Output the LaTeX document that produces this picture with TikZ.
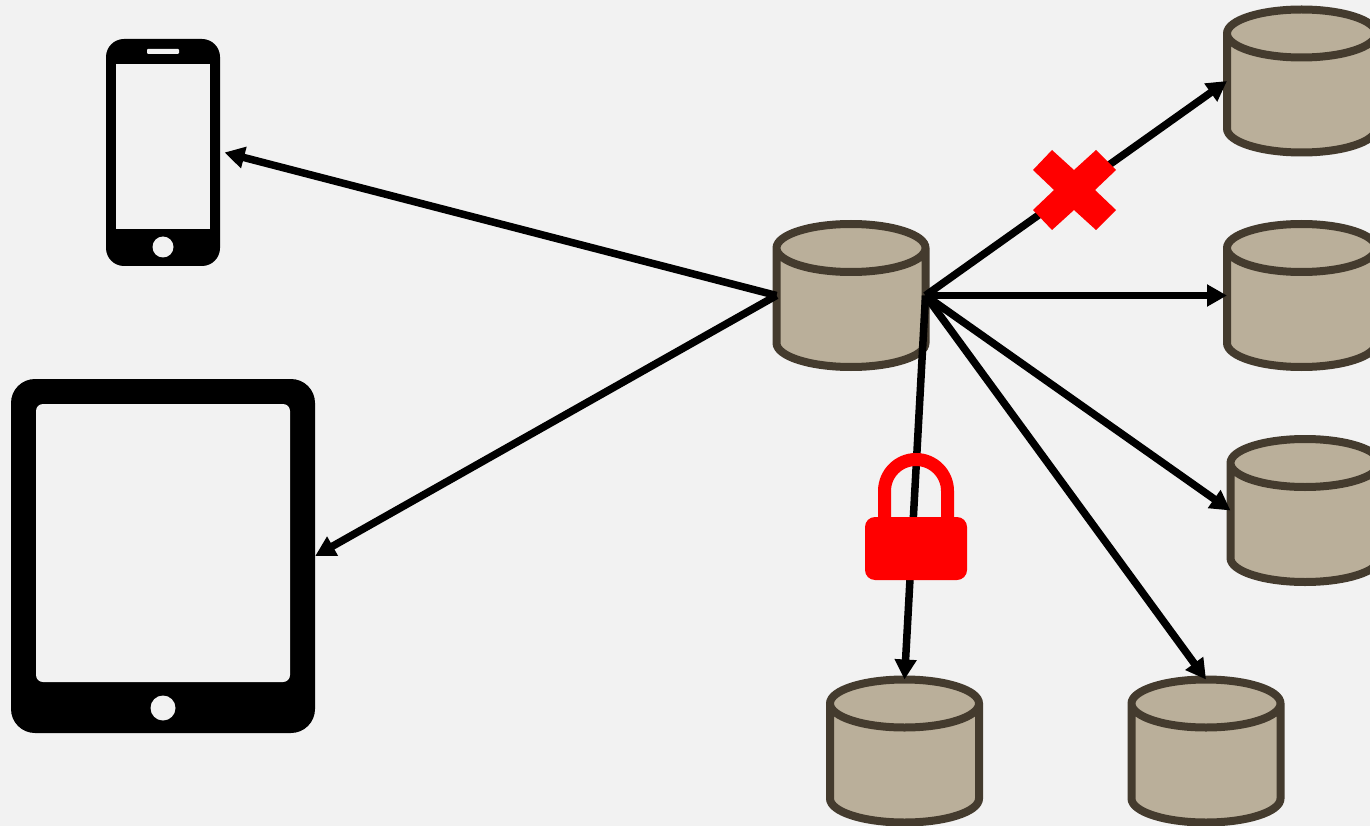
\documentclass[tikz,border=0pt]{standalone}
\usepackage{xcolor}
\usetikzlibrary{shapes.geometric,arrows.meta}
\definecolor{backgr}{HTML}{F2F2F2}
\definecolor{dbfill}{HTML}{BAAF9A}
\definecolor{dbline}{HTML}{443B2E}

\begin{document}
\begin{tikzpicture}[x=1pt,y=-1pt]
	\tikzstyle{db}=[cylinder,shape border rotate=90,shape aspect=2.4,minimum width=149pt,minimum height=143pt,inner sep=10pt,outer sep=0pt,anchor=shape center,draw=dbline,line width=8pt,fill=dbfill]
	\tikzstyle{body}=[rectangle,fill=black,inner sep=0pt]
	\tikzstyle{screen}=[rectangle,fill=backgr,inner sep=0pt,outer sep=0pt]
	\tikzstyle{knob}=[circle,fill=backgr,inner sep=0pt,outer sep=0pt]
	\tikzstyle{link}=[line width=7.5pt,-{Triangle[length=20pt,width=21pt]}]
	
	\useasboundingbox (0,0) rectangle (1370,826);
	\clip (0,0) rectangle (1370,826);
	\fill [backgr] (0,0) rectangle (1370,826);
	
	\node [body,rounded corners=18pt,minimum width=114pt,minimum height=227pt,outer sep=4.5pt] (phone) at (163,152.5) {};
	\node [screen,minimum width=94pt,minimum height=165pt] (phonescreen) at (163,147) {};
	\node [screen,rounded corners=1pt,minimum width=32pt,minimum height=5pt] (speaker) at (163,51.5) {};
	\node [knob,minimum size=21pt] (phonebutton) at (163,247) {};
	
	\node [body,rounded corners=24pt,minimum width=304pt,minimum height=354pt] (tablet) at (163,556) {};
	\node [screen,rounded corners=7pt,minimum width=254pt,minimum height=278pt] (tabletscreen) at (163,543) {};
	\node [knob,minimum size=25pt] (tabletbutton) at (163,708) {};
	
	\node [db] (center) at (851,295.5) {};
	\node [db] (dbone) at (1301.5,81) {};
	\node [db] (dbtwo) at (1301.5,295.5) {};
	\node [db] (dbthree) at (1305,510.5) {};
	\node [db] (dbfour) at (904.5,751) {};
	\node [db] (dbfive) at (1206,751) {};
	
	\draw [link] (center.shape center -| center.west) -- (phone.east);
	\draw [link] (center.shape center -| center.west) -- (tablet.east);
	\draw [link] (center.shape center -| center.east) -- (dbone.shape center -| dbone.west);
	\draw [link] (center.shape center -| center.east) -- (dbtwo.shape center -| dbtwo.west);
	\draw [link] (center.shape center -| center.east) -- (dbthree.shape center -| dbthree.west);
	\draw [link] (center.shape center -| center.east) -- (dbfour.north);
	\draw [link] (center.shape center -| center.east) -- (dbfive.north);
	
	\fill [red] (1052,150) -- (1074,170) -- (1096,150) -- (1116,170) -- (1095,190) -- (1116,210) -- (1096,230) -- (1074,210) -- (1052,230) -- (1033,210) -- (1054,190) -- (1033,170) -- cycle;
	
	\draw [red,line width=13pt] (884.5,520) -- (884.5,491) arc [start angle=180,end angle=0,radius=31.5pt] -- (947.5,520);
	\node [rectangle,fill=red,rounded corners=10pt,inner sep=0pt,minimum width=102pt,minimum height=63pt] (lockbody) at (916,548.5) {};
\end{tikzpicture}
\end{document}
